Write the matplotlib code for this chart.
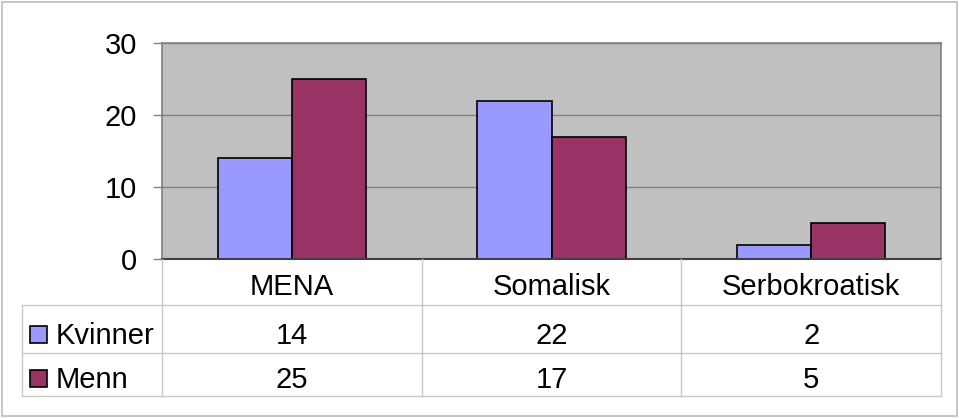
import matplotlib
matplotlib.use("Agg")
import matplotlib.pyplot as plt
from matplotlib.patches import Rectangle
from matplotlib.lines import Line2D
import numpy as np

categories = ["MENA", "Somalisk", "Serbokroatisk"]
series_names = ["Kvinner", "Menn"]
kvinner = [14, 22, 2]
menn = [25, 17, 5]
colors = ["#9999FF", "#993366"]
yticks = [0, 10, 20, 30]

W, H = 959, 418
plt.rcParams['font.family'] = ['Liberation Sans', 'DejaVu Sans']
fig = plt.figure(figsize=(W / 100, H / 100), dpi=100)

def fx(x): return x / W
def fy(y): return 1 - y / H

# Outer frame
fig.patches.append(Rectangle((fx(1.5), fy(415.5)), fx(955) , (414) / H, transform=fig.transFigure,
                             fill=False, edgecolor="#BBBBBB", lw=1.2))

left, right, top, bottom = 162, 941, 43, 259
ax = fig.add_axes([fx(left), fy(bottom), fx(right - left), (bottom - top) / H])
ax.set_facecolor("#C0C0C0")
x = np.arange(len(categories))
bw = 0.286
ax.bar(x - bw / 2, kvinner, bw, color=colors[0], edgecolor="black", lw=1.2, zorder=3)
ax.bar(x + bw / 2, menn, bw, color=colors[1], edgecolor="black", lw=1.2, zorder=3)
ax.set_xlim(-0.5, 2.5)
ax.set_ylim(0, 30)
ax.set_yticks(yticks)
fs = 21
ax.set_yticklabels([str(t) for t in yticks], fontsize=fs)
ax.tick_params(axis='y', length=6.5, width=1, color="#808080", pad=11.5)
ax.set_xticks([])
ax.yaxis.grid(True, color="#808080", lw=1)
ax.set_axisbelow(True)
for s in ["left", "right", "top"]:
    ax.spines[s].set_color("#808080")
    ax.spines[s].set_linewidth(1.2)
ax.spines["bottom"].set_color("#404040")
ax.spines["bottom"].set_linewidth(1.5)
ax.spines["bottom"].set_zorder(4)

# Data table
lc = "#C8C8C8"
def hline(y, x0, x1):
    fig.lines.append(Line2D([fx(x0), fx(x1)], [fy(y), fy(y)], transform=fig.transFigure, color=lc, lw=1))
def vline(x, y0, y1):
    fig.lines.append(Line2D([fx(x), fx(x)], [fy(y0), fy(y1)], transform=fig.transFigure, color=lc, lw=1))

col_w = (right - left) / 3
col_edges = [left + i * col_w for i in range(4)]
rows = [259, 305, 353, 396]
baselines = [295, 344, 388]
tbl_left = 22
for y in rows[1:]:
    hline(y, tbl_left, right)
for xe in col_edges:
    vline(xe, rows[0], rows[3])
vline(tbl_left, rows[1], rows[3])

for i, c in enumerate(categories):
    cx = col_edges[i] + col_w / 2
    fig.text(fx(cx), fy(baselines[0]), c, ha="center", va="baseline", fontsize=fs)
data = [kvinner, menn]
for r, (name, vals) in enumerate(zip(series_names, data)):
    cy = (rows[r + 1] + rows[r + 2]) / 2
    bl = baselines[r + 1]
    fig.patches.append(Rectangle((fx(30), fy(bl - 1)), 17 / W, 17 / H, transform=fig.transFigure,
                                 facecolor=colors[r], edgecolor="black", lw=1.2))
    fig.text(fx(56), fy(bl), name, ha="left", va="baseline", fontsize=fs)
    for i, v in enumerate(vals):
        cx = col_edges[i] + col_w / 2
        fig.text(fx(cx), fy(bl), str(v), ha="center", va="baseline", fontsize=fs)

fig.savefig("out.png", dpi=100)
